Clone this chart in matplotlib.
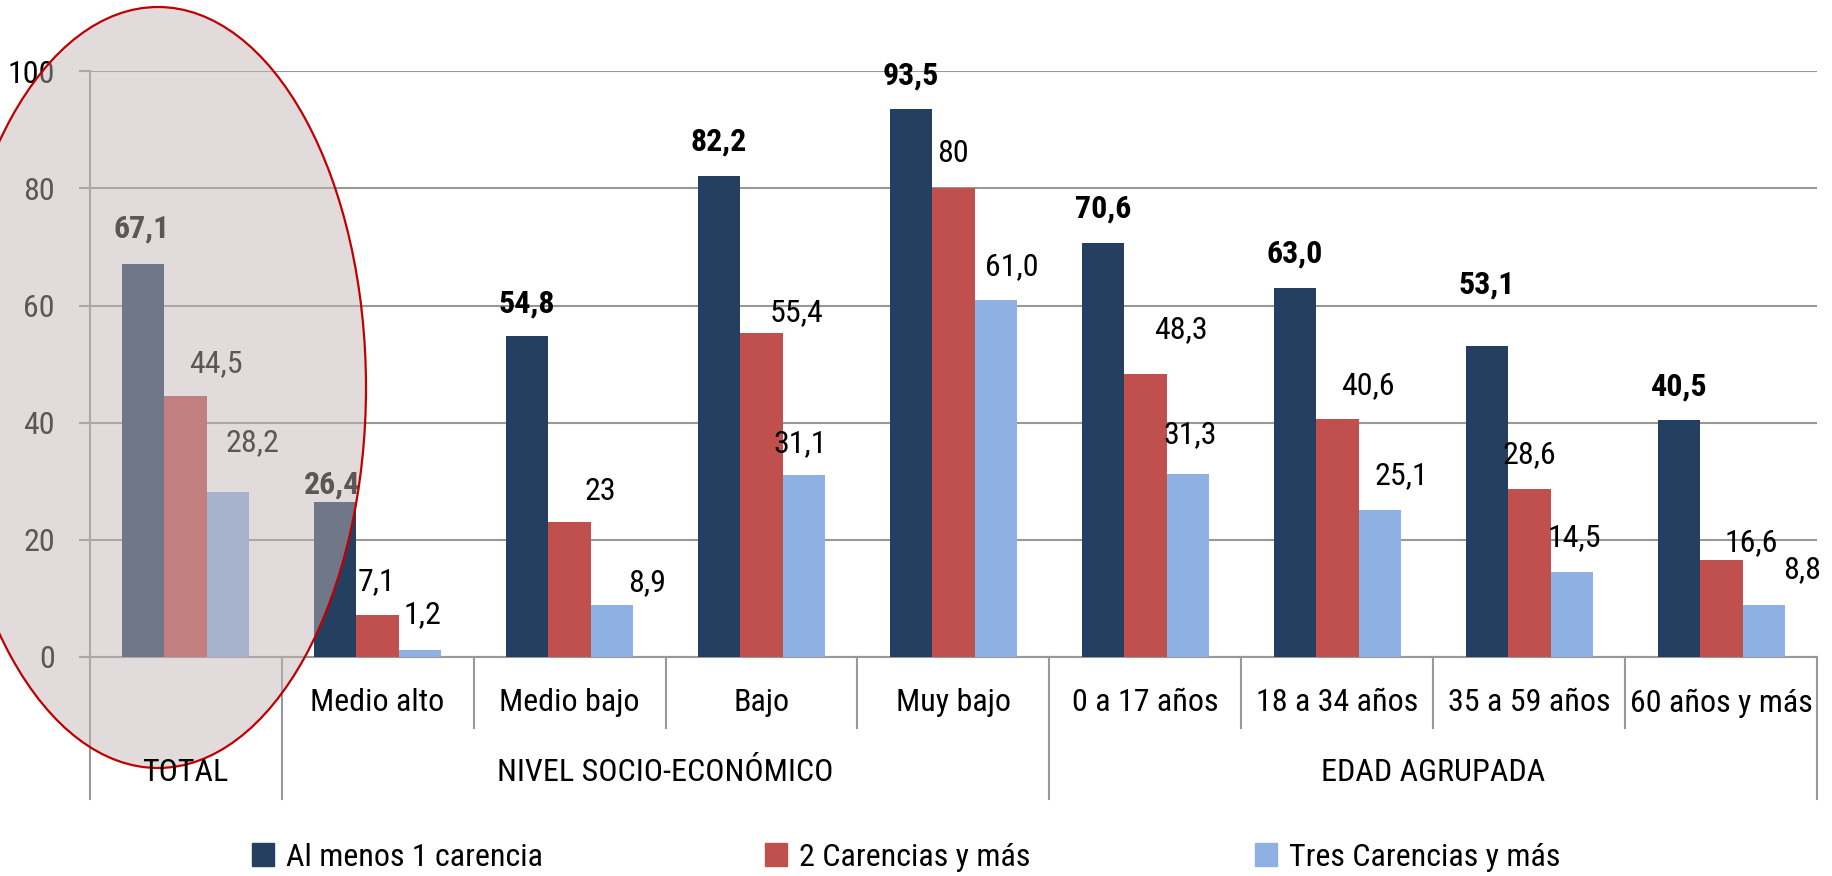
import matplotlib
matplotlib.use('Agg')
import matplotlib.pyplot as plt
from matplotlib import font_manager
from matplotlib.patches import Ellipse, Patch

# pick a condensed face if one is around
installed = {f.name for f in font_manager.fontManager.ttflist}
for fam in ['Liberation Sans Narrow', 'Roboto Condensed', 'DejaVu Sans Condensed', 'Open Sans Condensed', 'DejaVu Sans']:
    if fam in installed:
        break
plt.rcParams['font.family'] = [fam, 'DejaVu Sans']

categories = ['TOTAL', 'Medio alto', 'Medio bajo', 'Bajo', 'Muy bajo',
              '0 a 17 años', '18 a 34 años', '35 a 59 años', '60 años y más']
groups = ['TOTAL', 'NIVEL SOCIO-ECONÓMICO', 'EDAD AGRUPADA']
group_span = [(0, 0), (1, 4), (5, 8)]
series_names = ['Al menos 1 carencia', '2 Carencias y más', 'Tres Carencias y más']
al_menos_1 = [67.1, 26.4, 54.8, 82.2, 93.5, 70.6, 63.0, 53.1, 40.5]
dos_y_mas = [44.5, 7.1, 23, 55.4, 80, 48.3, 40.6, 28.6, 16.6]
tres_y_mas = [28.2, 1.2, 8.9, 31.1, 61.0, 31.3, 25.1, 14.5, 8.8]

# label nudges (pixels) as placed by hand in the original
off1 = [(-1, 35), (-3, 18), (0, 33), (0, 34), (0, 34), (0, 35), (0, 34), (0, 61), (0, 33)]
off2 = [(30, 33), (-1, 34), (31, 31), (35, 20), (0, 35), (35, 44), (30, 34), (0, 35), (30, 17)]
off3 = [(24, 49), (2, 35), (35, 22), (-4, 31), (16, 33), (2, 39), (21, 34), (2, 34), (38, 36)]

colors = ['#243F60', '#C0504D', '#8EB0E3']
grid_c = '#989898'
FS = 23


def fmt(v):
    if isinstance(v, int):
        return str(v)
    return f'{v:.1f}'.replace('.', ',')


fig = plt.figure(figsize=(18.33, 8.76), dpi=100)
ax = fig.add_axes([0.04883, 0.25, 0.94271, 0.66861])

w = 0.2214
x = list(range(len(categories)))
all_series = [al_menos_1, dos_y_mas, tres_y_mas]
offsets = [off1, off2, off3]
for i, vals in enumerate(all_series):
    pos = [xx + (i - 1) * w for xx in x]
    ax.bar(pos, vals, width=w, color=colors[i], label=series_names[i], zorder=3)
    for p, v, (dx, dy) in zip(pos, vals, offsets[i]):
        ax.annotate(fmt(v), (p, v), xytext=(dx, dy), textcoords='offset pixels',
                    ha='center', va='center', fontsize=FS,
                    fontweight='bold' if i == 0 else 'normal', color='black', zorder=4)

ax.set_xlim(-0.5, len(categories) - 0.5)
ax.set_ylim(0, 100)
ax.set_yticks(range(0, 101, 20))
ax.set_xticks([])
ax.tick_params(axis='y', direction='out', length=8, width=1.5, color=grid_c,
               labelsize=FS, pad=17)
ax.yaxis.grid(True, color=grid_c, linewidth=1.5, zorder=0)
ax.set_axisbelow(True)
for s in ['top', 'right']:
    ax.spines[s].set_visible(False)
for s in ['left', 'bottom']:
    ax.spines[s].set_color(grid_c)
    ax.spines[s].set_linewidth(1.5)

# two-level category axis
tr = ax.get_xaxis_transform()
short_y, long_y = -0.1212, -0.2424
for k in range(len(categories) + 1):
    xb = k - 0.5
    starts = [g[0] for g in group_span] + [len(categories)]
    bottom = long_y if k in starts else short_y
    ax.plot([xb, xb], [0, bottom], transform=tr, color=grid_c, lw=1.5, clip_on=False)
for k, name in enumerate(categories):
    if k == 0:
        continue
    ax.text(k, -0.0785, name, transform=tr, ha='center', va='center', fontsize=FS)
for name, (a, b) in zip(groups, group_span):
    fig.text((a + b) / 2, -0.198, name, transform=tr, ha='center', va='center',
             fontsize=FS, zorder=5)

# highlight oval over TOTAL
oval = Ellipse((158 / 1833, 1 - 387.5 / 876), 416 / 1833, 761 / 876,
               transform=fig.transFigure, facecolor=(196 / 255, 181 / 255, 183 / 255),
               alpha=0.48, edgecolor='none', zorder=2)
ring = Ellipse((158 / 1833, 1 - 387.5 / 876), 416 / 1833, 761 / 876,
               transform=fig.transFigure, facecolor='none', edgecolor='#C00000',
               lw=1.6, zorder=2)
fig.add_artist(oval)
fig.add_artist(ring)

# legend entries spread like the original
leg_x = [252 / 1833, 765 / 1833, 1255 / 1833]
for c, name, lx in zip(colors, series_names, leg_x):
    fig.legend([Patch(color=c)], [name], loc='center left', bbox_to_anchor=(lx, 1 - 857 / 876),
               frameon=False, fontsize=FS, handlelength=0.7, handleheight=0.7,
               handletextpad=0.35, borderpad=0, borderaxespad=0)

fig.savefig('out.png', dpi=100)
